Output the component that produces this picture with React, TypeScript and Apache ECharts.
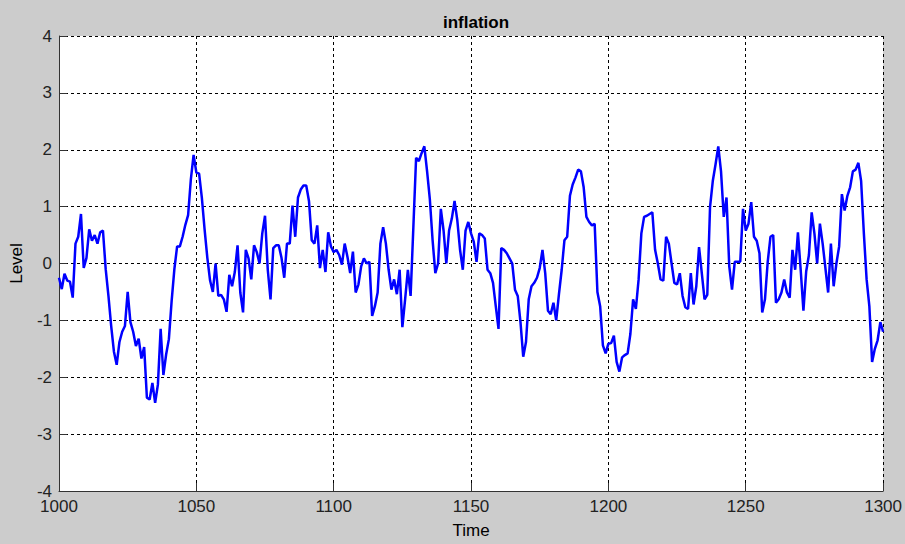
import React, { useEffect, useRef } from "react";
import * as echarts from "echarts";

const chartTitle = "inflation";
const xAxisName = "Time";
const yAxisName = "Level";
const startTime = 1000;
const xMin = 1000;
const xMax = 1300;
const xStep = 50;
const yMin = -4;
const yMax = 4;
const yStep = 1;

// Level values, one per time step, starting at t = 1000
const levels1000 = [
  -0.25, -0.45, -0.18, -0.3, -0.32, -0.6, 0.35, 0.47, 0.87, -0.08,
  0.1, 0.6, 0.4, 0.5, 0.35, 0.55, 0.58, -0.1, -0.57, -1.1,
  -1.55, -1.78, -1.38, -1.2, -1.1, -0.5, -1.03, -1.2, -1.45, -1.32,
  -1.67, -1.47, -2.36, -2.39, -2.1, -2.45, -2.13, -1.15, -1.96, -1.6,
  -1.33, -0.66, -0.1, 0.3, 0.3, 0.47, 0.68, 0.85, 1.48, 1.91,
];
const levels1050 = [
  1.6, 1.58, 1.16, 0.6, 0.1, -0.3, -0.5, 0.0, -0.57, -0.55,
  -0.63, -0.85, -0.2, -0.4, -0.15, 0.32, -0.51, -0.86, 0.24, 0.09,
  -0.28, 0.32, 0.2, 0.0, 0.53, 0.84, -0.11, -0.63, 0.27, 0.32,
  0.32, 0.1, -0.25, 0.35, 0.35, 1.02, 0.47, 1.16, 1.3, 1.37,
  1.37, 1.1, 0.41, 0.35, 0.67, -0.08, 0.24, -0.15, 0.55, 0.3,
];
const levels1100 = [
  0.2, 0.24, 0.15, -0.02, 0.35, 0.12, -0.17, 0.21, -0.51, -0.37,
  -0.05, 0.09, 0.0, 0.03, -0.92, -0.75, -0.51, 0.35, 0.64, 0.35,
  -0.11, -0.46, -0.28, -0.54, -0.11, -1.12, -0.63, -0.11, -0.57, 0.64,
  1.86, 1.8, 1.94, 2.06, 1.62, 1.13, 0.41, -0.17, 0.0, 0.96,
  0.58, 0.0, 0.58, 0.79, 1.1, 0.76, 0.24, -0.11, 0.58, 0.73,
];
const levels1150 = [
  0.53, 0.38, 0.03, 0.53, 0.5, 0.44, -0.11, -0.17, -0.34, -0.75,
  -1.15, 0.27, 0.24, 0.18, 0.09, 0.0, -0.46, -0.57, -1.03, -1.64,
  -1.38, -0.63, -0.4, -0.34, -0.25, -0.08, 0.24, -0.17, -0.83, -0.89,
  -0.69, -1.0, -0.54, -0.11, 0.41, 0.47, 1.19, 1.39, 1.51, 1.65,
  1.62, 1.34, 0.82, 0.73, 0.67, 0.7, -0.5, -0.75, -1.44, -1.58,
];
const levels1200 = [
  -1.41, -1.4, -1.27, -1.73, -1.9, -1.65, -1.61, -1.58, -1.24, -0.63,
  -0.8, -0.28, 0.53, 0.82, 0.84, 0.87, 0.9, 0.24, 0.0, -0.28,
  -0.3, 0.47, 0.35, 0.0, -0.34, -0.37, -0.17, -0.57, -0.77, -0.8,
  -0.17, -0.72, -0.4, 0.29, -0.17, -0.63, -0.55, 0.99, 1.45, 1.74,
  2.06, 1.62, 0.82, 1.16, -0.05, -0.46, 0.03, 0.03, 0.03, 0.96,
];
const levels1250 = [
  0.58, 0.7, 1.08, 0.47, 0.4, 0.18, -0.86, -0.63, 0.03, 0.47,
  0.5, -0.69, -0.63, -0.51, -0.28, -0.51, -0.6, 0.24, -0.11, 0.55,
  -0.11, -0.83, -0.14, 0.15, 0.9, 0.53, 0.0, 0.7, 0.35, -0.08,
  -0.51, 0.35, -0.4, 0.0, 0.3, 1.22, 0.93, 1.19, 1.34, 1.62,
  1.65, 1.77, 1.45, 0.53, -0.28, -0.75, -1.73, -1.5, -1.35, -1.03,
  -1.2,
];

const levels = [
  ...levels1000,
  ...levels1050,
  ...levels1100,
  ...levels1150,
  ...levels1200,
  ...levels1250,
];

const FONT = "'Liberation Sans', Arial, sans-serif";

export default function App() {
  const ref = useRef<HTMLDivElement>(null);

  useEffect(() => {
    if (!ref.current) return;
    const chart = echarts.init(ref.current, null, { renderer: "svg" });
    const seriesData = levels.map((v, i) => [startTime + i, v]);
    const axisCommon = {
      type: "value" as const,
      nameLocation: "middle" as const,
      nameTextStyle: { fontSize: 17, color: "#000", fontFamily: FONT },
      axisLine: { show: true, onZero: false, lineStyle: { color: "#333", width: 1 } },
      axisTick: { show: true, inside: true, length: 8, lineStyle: { color: "#333", width: 1 } },
      axisLabel: {
        fontSize: 17,
        color: "#222",
        fontFamily: FONT,
        formatter: (v: number) => String(v),
      },
      splitLine: { show: true, lineStyle: { color: "#000", width: 1, type: [3, 3] } },
    };
    chart.setOption({
      animation: false,
      backgroundColor: "#cccccc",
      title: {
        text: chartTitle,
        left: 471,
        textAlign: "center",
        top: 9,
        textStyle: { fontSize: 17, fontWeight: "bold", color: "#000", fontFamily: FONT },
      },
      grid: {
        left: 59,
        right: 18,
        top: 36,
        bottom: 47,
        show: true,
        backgroundColor: "#ffffff",
        borderWidth: 0,
        containLabel: false,
      },
      xAxis: {
        ...axisCommon,
        min: xMin,
        max: xMax,
        interval: xStep,
        name: xAxisName,
        nameGap: 31,
        axisLabel: { ...axisCommon.axisLabel, margin: 7 },
      },
      yAxis: {
        ...axisCommon,
        min: yMin,
        max: yMax,
        interval: yStep,
        name: yAxisName,
        nameGap: 34,
        axisLabel: { ...axisCommon.axisLabel, margin: 7 },
      },
      series: [
        {
          type: "line",
          data: seriesData,
          showSymbol: false,
          symbol: "none",
          lineStyle: { color: "#0000ff", width: 2.5 },
          itemStyle: { color: "#0000ff" },
        },
      ],
    });
    return () => chart.dispose();
  }, []);

  return (
    <div
      ref={ref}
      style={{ position: "absolute", left: 0, top: 0, width: 905, height: 544 }}
    />
  );
}
